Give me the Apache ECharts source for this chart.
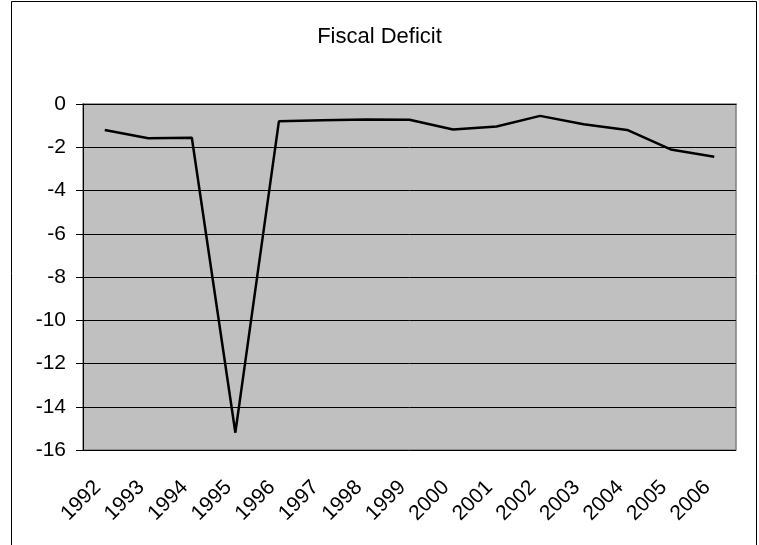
<!DOCTYPE html>
<html>
<head>
<meta charset="utf-8">
<script src="https://cdn.jsdelivr.net/npm/echarts@6/dist/echarts.min.js"></script>
<style>
  html, body { margin: 0; padding: 0; background: #fff; }
  #chart { width: 759px; height: 545px; }
</style>
</head>
<body>
<div id="chart"></div>
<script>
// Years on the category axis
const years = ['1992','1993','1994','1995','1996','1997','1998','1999','2000','2001','2002','2003','2004','2005','2006'];
// Fiscal deficit by year
const deficit = [-1.20, -1.58, -1.56, -15.2, -0.80, -0.75, -0.72, -0.73, -1.18, -1.04, -0.55, -0.94, -1.20, -2.10, -2.44];
// Value axis range
const yMin = -16, yMax = 0, yStep = 2;

const chart = echarts.init(document.getElementById('chart'), null, { renderer: 'canvas' });
const font = 'Arial, "Liberation Sans", sans-serif';

chart.setOption({
  animation: false,
  backgroundColor: '#ffffff',
  title: {
    text: 'Fiscal Deficit',
    left: 'center',
    top: 21,
    textStyle: { fontFamily: font, fontSize: 22, fontWeight: 'normal', color: '#000' }
  },
  graphic: [{
    type: 'rect',
    shape: { x: 11.5, y: 1.5, width: 745, height: 560 },
    style: { fill: null, stroke: '#000', lineWidth: 1 },
    silent: true, z: -1
  }],
  grid: {
    left: 83, right: 23, top: 104, bottom: 95,
    show: true, backgroundColor: '#c0c0c0', borderColor: '#808080', borderWidth: 1.5
  },
  xAxis: [{
    type: 'category',
    data: years,
    position: 'top',
    axisLine: { onZero: false, lineStyle: { color: '#000', width: 1 } },
    axisTick: { inside: true, length: 6, lineStyle: { color: '#000' } },
    axisLabel: { show: false },
    splitLine: { show: false }
  }, {
    type: 'category',
    data: years,
    position: 'bottom',
    axisLine: { show: false },
    axisTick: { show: false },
    axisLabel: {
      rotate: 45, margin: 27, padding: [0, 10, 0, 0],
      fontFamily: font, fontSize: 21, color: '#000'
    },
    splitLine: { show: false }
  }],
  yAxis: {
    type: 'value',
    min: yMin, max: yMax, interval: yStep,
    axisLine: { show: true, onZero: false, lineStyle: { color: '#000', width: 1 } },
    axisTick: { show: true, length: 7, lineStyle: { color: '#000' } },
    axisLabel: { fontFamily: font, fontSize: 21, color: '#000', margin: 17 },
    splitLine: { show: true, lineStyle: { color: '#000', width: 1 } }
  },
  series: [{
    type: 'line',
    xAxisIndex: 1,
    data: deficit,
    symbol: 'none',
    lineStyle: { color: '#000', width: 2.5 }
  }]
});
</script>
</body>
</html>
